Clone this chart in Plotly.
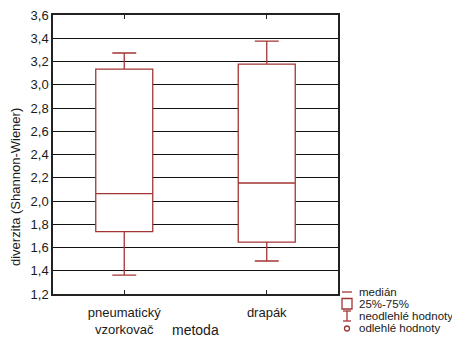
import plotly.graph_objects as go

categories = ["pneumatický<br>vzorkovač", "drapák"]
lower_whisker = [1.363, 1.484]
q1_vals = [1.736, 1.647]
medians = [2.063, 2.155]
q3_vals = [3.135, 3.178]
upper_whisker = [3.273, 3.376]

y_ticks = [1.2, 1.4, 1.6, 1.8, 2.0, 2.2, 2.4, 2.6, 2.8, 3.0, 3.2, 3.4, 3.6]
y_tick_labels = [f"{v:.1f}".replace(".", ",") for v in y_ticks]
legend_labels = ["medián", "25%-75%", "neodlehlé hodnoty", "odlehlé hodnoty"]

RED = "#A33535"
TXT = "#1a1a1a"
FONT = "Liberation Sans, Arial, sans-serif"

L, R, T, B = 53, 114, 15, 44
W, H = 452, 338
PW, PH = W - L - R, H - T - B

fig = go.Figure()
fig.add_trace(go.Box(
    x=categories,
    q1=q1_vals, median=medians, q3=q3_vals,
    lowerfence=lower_whisker, upperfence=upper_whisker,
    fillcolor="white",
    line=dict(color=RED, width=1.3),
    whiskerwidth=0.42,
    boxpoints=False,
    showlegend=False,
    hoverinfo="skip",
))

fig.update_layout(
    width=W, height=H,
    margin=dict(l=L, r=R, t=T, b=B, autoexpand=False),
    paper_bgcolor="white", plot_bgcolor="white",
    font=dict(family=FONT, size=13, color=TXT),
    boxgap=0.6, boxgroupgap=0,
    showlegend=False,
    xaxis=dict(
        type="category", automargin=False,
        showline=True, linecolor="#222", linewidth=1.5, mirror="ticks",
        ticks="inside", ticklen=4, tickcolor="#222",
        ticklabelstandoff=6,
        showgrid=False, zeroline=False,
        tickfont=dict(size=13, family=FONT, color=TXT),
    ),
    yaxis=dict(
        range=[1.2, 3.6], automargin=False,
        tickvals=y_ticks, ticktext=y_tick_labels,
        showline=True, linecolor="#222", linewidth=1.5, mirror=True,
        ticks="", showgrid=True, gridcolor="#111", gridwidth=1,
        zeroline=False,
        tickfont=dict(size=13, family=FONT, color=TXT),
    ),
)

def px(x):
    return (x - L) / PW

def py(y):
    return (H - B - y) / PH

# axis titles
fig.add_annotation(xref="paper", yref="paper", x=px(195), y=py(330),
                   text="metoda", showarrow=False, xanchor="center", yanchor="middle",
                   font=dict(size=14, family=FONT, color=TXT))
fig.add_annotation(xref="paper", yref="paper", x=px(15), y=py(187),
                   text="diverzita (Shannon-Wiener)", showarrow=False, textangle=-90,
                   xanchor="center", yanchor="middle",
                   font=dict(size=13, family=FONT, color=TXT))

# legend (custom)
leg_x_txt = 357
leg_ys = [292, 304, 316, 328]

fig.add_shape(type="line", xref="paper", yref="paper",
              x0=px(342), x1=px(352), y0=py(292), y1=py(292),
              line=dict(color=RED, width=1.3))
fig.add_shape(type="rect", xref="paper", yref="paper",
              x0=px(342), x1=px(352), y0=py(298.5), y1=py(309),
              line=dict(color=RED, width=1.3), fillcolor="white")
fig.add_shape(type="line", xref="paper", yref="paper",
              x0=px(347), x1=px(347), y0=py(311), y1=py(321),
              line=dict(color=RED, width=1.3))
fig.add_shape(type="line", xref="paper", yref="paper",
              x0=px(343), x1=px(351), y0=py(311), y1=py(311),
              line=dict(color=RED, width=1.3))
fig.add_shape(type="line", xref="paper", yref="paper",
              x0=px(343), x1=px(351), y0=py(321), y1=py(321),
              line=dict(color=RED, width=1.3))
fig.add_shape(type="circle", xref="paper", yref="paper",
              x0=px(344.5), x1=px(349.5), y0=py(326), y1=py(331),
              line=dict(color=RED, width=1.3), fillcolor="white")

for label, y in zip(legend_labels, leg_ys):
    fig.add_annotation(xref="paper", yref="paper", x=px(leg_x_txt), y=py(y),
                       text=label, showarrow=False, xanchor="left", yanchor="middle",
                       font=dict(size=11.5, family=FONT, color=TXT))

fig.write_html("out.html")
